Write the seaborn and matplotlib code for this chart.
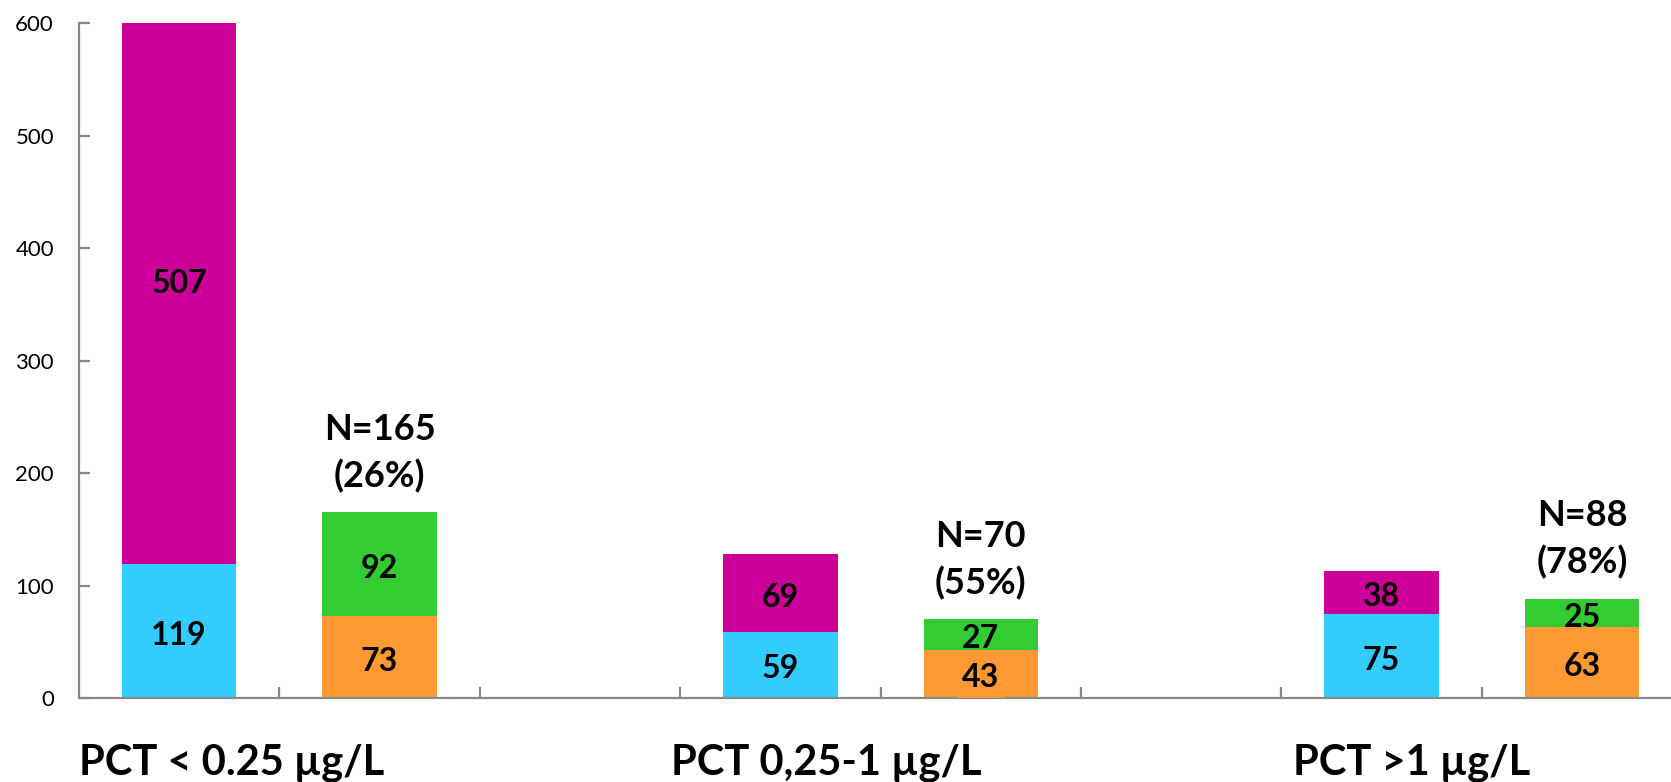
import numpy as np
import pandas as pd
import matplotlib
matplotlib.use("Agg")
import matplotlib.pyplot as plt
import seaborn as sns

# ---- data ----
slots = ["s0", "s1", "s2", "s3", "s4", "s5", "s6", "s7"]
first_slots = ["s0", "s3", "s6"]
second_slots = ["s1", "s4", "s7"]
blue_vals = [119, 59, 75]
magenta_vals = [507, 69, 38]
orange_vals = [73, 43, 63]
green_vals = [92, 27, 25]
n_labels = ["N=165\n(26%)", "N=70\n(55%)", "N=88\n(78%)"]
group_labels = ["PCT < 0.25 µg/L", "PCT 0,25-1 µg/L", "PCT >1 µg/L"]
yticks = [0, 100, 200, 300, 400, 500, 600]

C_BLUE = "#33CCFF"
C_MAG = "#CC0099"
C_ORANGE = "#FF9933"
C_GREEN = "#33CC33"

sns.set_style("white")
plt.rcParams["font.family"] = ["Lato", "DejaVu Sans"]
plt.rcParams["text.color"] = "black"
plt.rcParams["xtick.color"] = "#888888"
plt.rcParams["ytick.color"] = "#888888"
plt.rcParams["xtick.labelcolor"] = "black"
plt.rcParams["ytick.labelcolor"] = "black"

W, H = 1671, 782
fig = plt.figure(figsize=(W / 100, H / 100), dpi=100)
ax = fig.add_axes([79 / W, (H - 698) / H, (W - 79) / W, (698 - 23.4) / H])

df_a = pd.DataFrame({"slot": first_slots, "bottom": blue_vals,
                     "total": np.array(blue_vals) + np.array(magenta_vals)})
df_b = pd.DataFrame({"slot": second_slots, "bottom": orange_vals,
                     "total": np.array(orange_vals) + np.array(green_vals)})

bw = 0.57
sns.barplot(data=df_a, x="slot", y="total", order=slots, color=C_MAG,
            saturation=1, width=bw, ax=ax, linewidth=0)
sns.barplot(data=df_a, x="slot", y="bottom", order=slots, color=C_BLUE,
            saturation=1, width=bw, ax=ax, linewidth=0)
sns.barplot(data=df_b, x="slot", y="total", order=slots, color=C_GREEN,
            saturation=1, width=bw, ax=ax, linewidth=0)
sns.barplot(data=df_b, x="slot", y="bottom", order=slots, color=C_ORANGE,
            saturation=1, width=bw, ax=ax, linewidth=0)

ax.set_ylim(0, 600)
ax.set_xlim(-0.5, -0.5 + (W - 79) / 200.4)
ax.set_yticks(yticks)
ax.set_yticklabels([str(v) for v in yticks], fontsize=16, color="black")
ax.set_xticks(np.arange(0.5, 7, 1))
ax.set_xticklabels([])
ax.set_xlabel("")
ax.set_ylabel("")
for s in ["top", "right"]:
    ax.spines[s].set_visible(False)
for s in ["left", "bottom"]:
    ax.spines[s].set_color("#888888")
    ax.spines[s].set_linewidth(1.6)
ax.tick_params(axis="both", direction="in", length=8, width=1.6,
               color="#888888", pad=18, left=True, bottom=True)
ax.tick_params(axis="x", pad=4)

pos = {s: i for i, s in enumerate(slots)}
vfs = 23
dy = -3  # slight downward offset of value labels (points)
def vlabel(x, y, s, bbox=None):
    ax.annotate(s, xy=(x, y), xytext=(0, dy), textcoords="offset points",
                ha="center", va="center", fontsize=vfs, fontweight="bold",
                color="black", bbox=bbox, annotation_clip=False, zorder=4)

for s, b, m in zip(first_slots, blue_vals, magenta_vals):
    x = pos[s]
    vlabel(x, b / 2, str(b))
    vlabel(x, b + m / 2, str(m))
for i, (s, o, g) in enumerate(zip(second_slots, orange_vals, green_vals)):
    x = pos[s]
    bbox = None
    if i == 1:
        bbox = dict(facecolor=C_ORANGE, edgecolor="none", pad=4)
    vlabel(x, o + g / 2, str(g))
    vlabel(x, o / 2, str(o), bbox=bbox)
    ax.annotate(n_labels[i], xy=(x, o + g), xytext=(0, 14), textcoords="offset points",
                ha="center", va="bottom", fontsize=26, fontweight="bold",
                linespacing=1.45, annotation_clip=False)

gx = [79, 671, 1293]
for lab, x in zip(group_labels, gx):
    fig.text(x / W, (H - 775) / H, lab, ha="left", va="baseline",
             fontsize=30, fontweight="bold")

fig.savefig("out.png", dpi=100)
